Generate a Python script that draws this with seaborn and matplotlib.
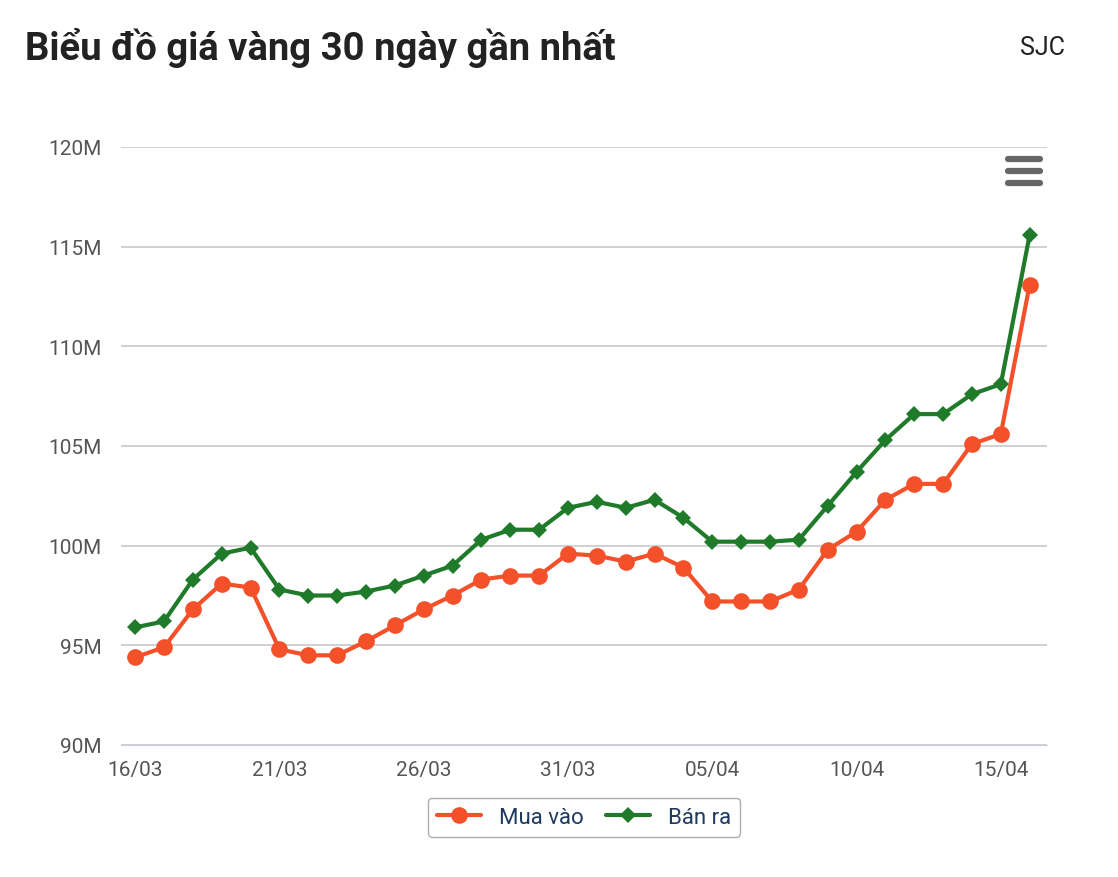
import numpy as np
import pandas as pd
import seaborn as sns
import matplotlib.pyplot as plt

dates = pd.date_range("2025-03-16", "2025-04-16", freq="D")
mua_vao = [94.4, 94.9, 96.8, 98.1, 97.9, 94.8, 94.5, 94.5, 95.2, 96.0, 96.8, 97.5,
           98.3, 98.5, 98.5, 99.6, 99.5, 99.2, 99.6, 98.9, 97.2, 97.2, 97.2, 97.8,
           99.8, 100.7, 102.3, 103.1, 103.1, 105.1, 105.6, 113.1]
ban_ra = [95.9, 96.2, 98.3, 99.6, 99.9, 97.8, 97.5, 97.5, 97.7, 98.0, 98.5, 99.0,
          100.3, 100.8, 100.8, 101.9, 102.2, 101.9, 102.3, 101.4, 100.2, 100.2, 100.2, 100.3,
          102.0, 103.7, 105.3, 106.6, 106.6, 107.6, 108.1, 115.6]
yticks = [90, 95, 100, 105, 110, 115, 120]

sns.set_style("white")
plt.rcParams['font.family'] = ['Roboto', 'DejaVu Sans']

df = pd.DataFrame({"x": np.arange(len(dates)), "Mua vào": mua_vao, "Bán ra": ban_ra})

fig = plt.figure(figsize=(11.18, 8.78), dpi=100)
ax = fig.add_axes([121 / 1118, 1 - 746 / 878, (1047 - 121) / 1118, (746 - 148) / 878])

sns.lineplot(data=df, x="x", y="Mua vào", ax=ax, color="#f4502a", lw=3,
             marker="o", markersize=12, markeredgewidth=0, label="Mua vào", zorder=3)
sns.lineplot(data=df, x="x", y="Bán ra", ax=ax, color="#1f7a2a", lw=3,
             marker="D", markersize=8, markeredgewidth=0, label="Bán ra", zorder=4)

ax.set_xlim(-0.49, 31.6)
ax.set_ylim(90, 120)
ax.set_yticks(yticks)
ax.set_yticklabels([f"{v}M" for v in yticks], fontsize=15, color="#555555")
ax.yaxis.grid(True, color="#c8c8c8", lw=1.2)
ax.tick_params(axis="y", length=0, pad=14)

major = list(range(0, len(dates), 5))
ax.set_xticks(major)
ax.set_xticklabels([dates[i].strftime("%d/%m") for i in major], fontsize=15, color="#555555")
ax.set_xticks(np.arange(len(dates)), minor=True)
ax.tick_params(axis="x", which="both", length=10, width=1.2, color="#b8c2d8", pad=1)
ax.set_xlabel("")
ax.set_ylabel("")
for s in ["top", "right", "left"]:
    ax.spines[s].set_visible(False)
ax.spines["bottom"].set_color("#c8d0e0")

leg = ax.legend(loc="upper center", bbox_to_anchor=(0.5, -0.07), ncol=2, fontsize=16,
                frameon=True, edgecolor="#999999", handlelength=2, columnspacing=1.0,
                fancybox=True)
for t in leg.get_texts():
    t.set_color("#1f3a5f")

fig.text(25 / 1118, 1 - 48 / 878, "Biểu đồ giá vàng 30 ngày gần nhất", fontsize=27.5,
         fontweight="bold", color="#222222", va="center")
fig.text(1065 / 1118, 1 - 48 / 878, "SJC", fontsize=18, color="#222222", va="center", ha="right")

# menu icon
for yy in [160, 172, 184]:
    fig.add_artist(plt.Line2D([1008 / 1118, 1040 / 1118], [1 - yy / 878] * 2,
                              color="#666666", lw=4.5, solid_capstyle="round"))

fig.savefig("out.png", dpi=100)
